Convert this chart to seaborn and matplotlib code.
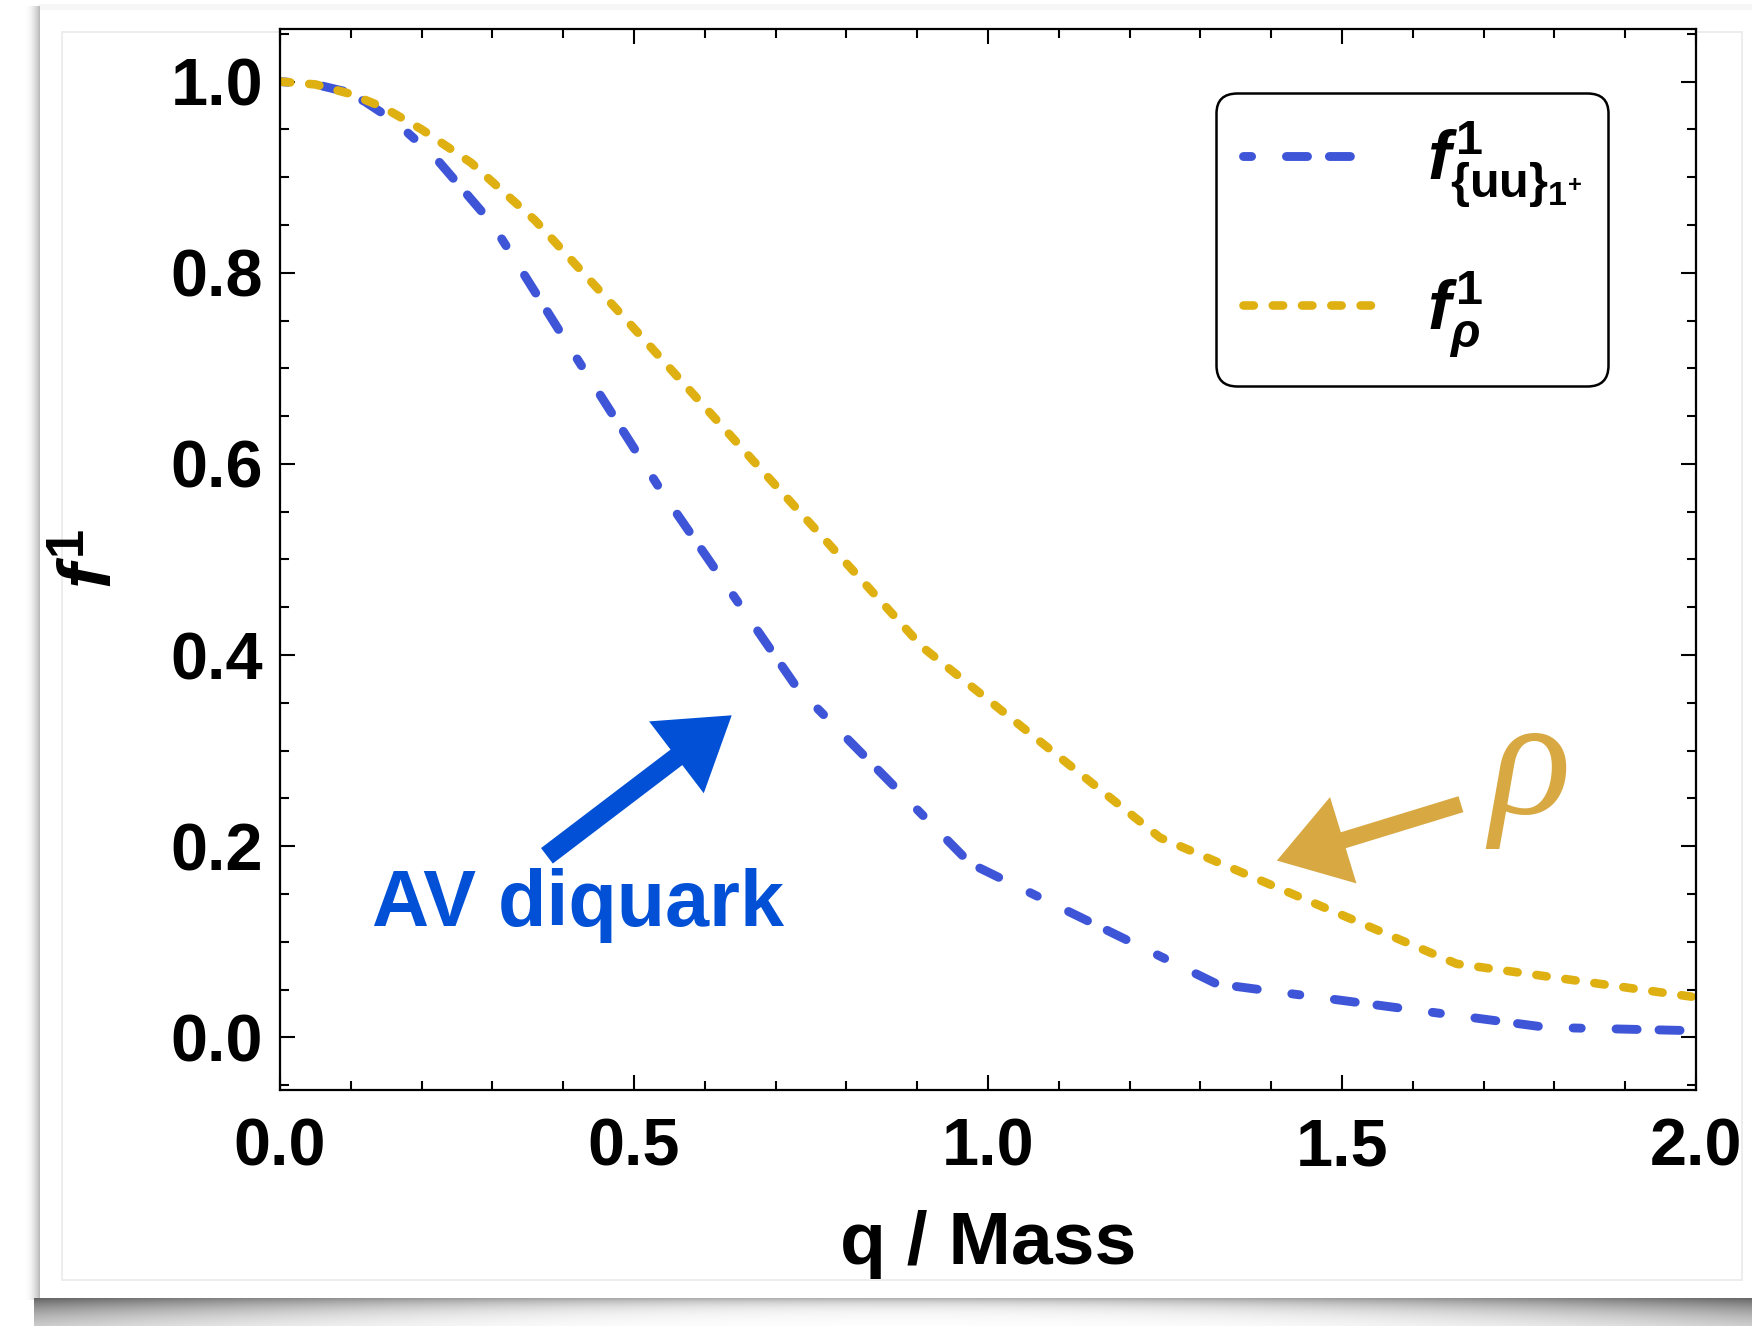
import numpy as np
import pandas as pd
import matplotlib
matplotlib.use("Agg")
import matplotlib.pyplot as plt
import seaborn as sns
from matplotlib.ticker import MultipleLocator

# ---------------- data ----------------
q_av = [0.0, 0.05, 0.09, 0.12, 0.163, 0.22, 0.30, 0.405, 0.54, 0.73, 0.975, 1.323, 1.789, 2.0]
f_av = [1.0, 0.997, 0.990, 0.979, 0.958, 0.920, 0.851, 0.727, 0.570, 0.366, 0.182, 0.056, 0.0105, 0.007]

q_rho = [0.0, 0.05, 0.10, 0.146, 0.20, 0.27, 0.36, 0.49, 0.67, 0.908, 1.243, 1.662, 2.0]
f_rho = [1.0, 0.997, 0.987, 0.973, 0.950, 0.915, 0.855, 0.750, 0.602, 0.408, 0.209, 0.077, 0.042]

x_ticks = [0.0, 0.5, 1.0, 1.5, 2.0]
y_ticks = [0.0, 0.2, 0.4, 0.6, 0.8, 1.0]
x_label = "q / Mass"
y_label = r"$f^{1}$"
label_av = r"$f^{1}_{\{\mathrm{uu}\}_{\mathrm{1}^{+}}}$"
label_rho = r"$f^{1}_{\rho}$"
annot_av = "AV diquark"
annot_rho = "ρ"

c_av = "#3F55D8"
c_rho = "#DFB012"
c_av_ann = "#0150D6"
c_rho_ann = "#D8A843"

# ---------------- style ----------------
sns.set_theme(style="ticks")
plt.rcParams["font.family"] = ["Liberation Sans", "DejaVu Sans"]
plt.rcParams["font.weight"] = "bold"
plt.rcParams["mathtext.fontset"] = "custom"
plt.rcParams["mathtext.rm"] = "Liberation Sans:bold"
plt.rcParams["mathtext.it"] = "Liberation Sans:italic:bold"
plt.rcParams["mathtext.bf"] = "Liberation Sans:bold"
plt.rcParams["mathtext.sf"] = "Liberation Sans:bold"
plt.rcParams["lines.scale_dashes"] = True
for k in ["text.color", "axes.labelcolor", "xtick.color", "ytick.color", "axes.edgecolor"]:
    plt.rcParams[k] = "black"

W, H = 1752, 1326
fig = plt.figure(figsize=(W / 100, H / 100), dpi=100, facecolor="white")

# ---------------- decorative card with drop shadow ----------------
yy, xx = np.mgrid[0:H, 0:W]
gray = np.ones((H, W))
left = (xx >= 24) & (xx < 40) & (yy >= 6) & (yy < 1300)
gray[left] = 1 - 0.30 * ((xx[left] - 24) / 16.0) ** 2
top = (yy >= 4) & (yy < 10) & (xx >= 38)
gray[top] = np.minimum(gray[top], 0.965)
s = ((xx - 900) / 860.0) ** 2
t = 7 + 18 * s
mask = (yy >= 1298) & (xx >= 34)
d = (0.30 + 0.30 * np.clip(s, 0, 1)) * np.exp(-(yy - 1298) / t)
gray[mask] = np.minimum(gray[mask], 1 - d[mask])
ln = 0.93
gray[31:33, 62:1742] = ln
gray[1279:1281, 62:1742] = ln
gray[31:1281, 61:63] = ln
gray[31:1281, 1741:1743] = ln
bg = np.dstack([gray, gray, gray])
fig.figimage(bg, xo=0, yo=0, origin="upper", zorder=-1)

# ---------------- axes ----------------
ax = fig.add_axes([280 / W, 1 - 1090 / H, 1416 / W, 1061 / H])

df_av = pd.DataFrame({"q": q_av, "f": f_av})
df_rho = pd.DataFrame({"q": q_rho, "f": f_rho})

lw_av, lw_rho = 6.4, 6.2
sns.lineplot(data=df_av, x="q", y="f", ax=ax, color=c_av, linewidth=lw_av,
             linestyle=(0, (0.91, 3.92, 2.37, 2.46, 2.37, 3.92)),
             dash_capstyle="round", estimator=None, label=label_av, legend=False)
sns.lineplot(data=df_rho, x="q", y="f", ax=ax, color=c_rho, linewidth=lw_rho,
             linestyle=(0, (1.2, 2.2)),
             dash_capstyle="round", estimator=None, label=label_rho, legend=False)
for line, lw in zip(ax.get_lines(), [lw_av, lw_rho]):
    line.set_linewidth(lw)

ax.set_xlim(0, 2)
ax.set_ylim(-0.055, 1.055)
ax.set_xticks(x_ticks)
ax.set_yticks(y_ticks)
ax.xaxis.set_minor_locator(MultipleLocator(0.1))
ax.yaxis.set_minor_locator(MultipleLocator(0.05))
ax.set_xticklabels([f"{v:.1f}" for v in x_ticks])
ax.set_yticklabels([f"{v:.1f}" for v in y_ticks])
ax.tick_params(which="both", direction="in", top=True, right=True, width=1.5, color="black")
ax.tick_params(which="major", length=10.8)
ax.tick_params(which="minor", length=6.5)
ax.tick_params(axis="x", which="major", pad=20, labelsize=48, labelcolor="black")
ax.tick_params(axis="y", which="major", pad=12, labelsize=48, labelcolor="black")
for lab in ax.get_xticklabels() + ax.get_yticklabels():
    lab.set_fontweight("bold")
for sp in ax.spines.values():
    sp.set_visible(True)
    sp.set_linewidth(1.6)
    sp.set_color("black")

ax.set_xlabel(x_label, fontsize=54, fontweight="bold", color="black")
ax.xaxis.set_label_coords(0.5, -0.113)
ax.set_ylabel(y_label, fontsize=54, color="black")
ax.yaxis.set_label_coords(-0.108, 0.5)

# annotations
ax.text(0.13, 0.117, annot_av, color=c_av_ann, fontsize=57, fontweight="bold",
        ha="left", va="baseline")
ax.annotate("", xy=(0.638, 0.337), xytext=(0.377, 0.190),
            arrowprops=dict(arrowstyle="simple,head_length=1.0,head_width=1.3,tail_width=0.28",
                            mutation_scale=50, color=c_av_ann, shrinkA=0, shrinkB=0, lw=0))
ax.annotate("", xy=(1.408, 0.185), xytext=(1.668, 0.244),
            arrowprops=dict(arrowstyle="simple,head_length=1.0,head_width=1.3,tail_width=0.24",
                            mutation_scale=50, color=c_rho_ann, shrinkA=0, shrinkB=0, lw=0))
ax.text(1.765, 0.278, annot_rho, family=["Liberation Serif", "DejaVu Serif"], style="italic",
        fontweight="normal", fontsize=122, color=c_rho_ann, ha="center", va="center")

leg = ax.legend(loc="upper right", bbox_to_anchor=(0.938, 0.940), fontsize=50,
                frameon=True, fancybox=True, edgecolor="black", facecolor="white",
                framealpha=1, handlelength=1.9, handletextpad=0.75, borderpad=0.38,
                labelspacing=0.85, borderaxespad=0)
leg.get_frame().set_linewidth(1.8)
leg.get_frame().set_boxstyle("round,pad=0,rounding_size=0.3")
for txt in leg.get_texts():
    txt.set_color("black")

fig.savefig("out.png", dpi=100, facecolor="white")
